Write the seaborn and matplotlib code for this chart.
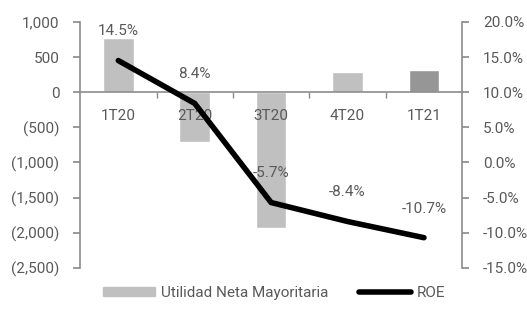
import numpy as np
import pandas as pd
import matplotlib
matplotlib.use("Agg")
import matplotlib.pyplot as plt
import seaborn as sns
from matplotlib.lines import Line2D
from matplotlib.patches import Patch
from matplotlib.ticker import FuncFormatter

# data
quarters = ["1T20", "2T20", "3T20", "4T20", "1T21"]
utilidad = [770, -710, -1935, 285, 313]
roe = [14.5, 8.4, -5.7, -8.4, -10.7]
bar_colors = ["#c0c0c0", "#c0c0c0", "#c0c0c0", "#c0c0c0", "#969696"]

sns.set_theme(style="white")
plt.rcParams["font.family"] = ["Roboto", "DejaVu Sans"]
TXT = "#595959"
AX = "#8c8c8c"
FS = 11

df = pd.DataFrame({"q": quarters, "u": utilidad, "roe": roe})

fig = plt.figure(figsize=(5.27, 3.22), dpi=100)
ax = fig.add_axes([0.152, 0.168, 0.725, 0.764])

sns.barplot(data=df, x="q", y="u", hue="q", palette=bar_colors, width=0.4,
            legend=False, ax=ax, saturation=1)
ax.set_axisbelow(False)
ax.set_ylim(-2500, 1000)
ax.set_xlim(-0.5, 4.5)
ax.set_yticks(np.arange(-2500, 1001, 500))
ax.yaxis.set_major_formatter(FuncFormatter(
    lambda v, p: f"({abs(v):,.0f})" if v < 0 else f"{v:,.0f}"))
ax.set_xlabel("")
ax.set_ylabel("")

for s in ["top", "right"]:
    ax.spines[s].set_visible(False)
ax.spines["left"].set_color(AX)
ax.spines["left"].set_linewidth(1.2)
ax.spines["bottom"].set_position(("data", 0))
ax.spines["bottom"].set_color(AX)
ax.spines["bottom"].set_linewidth(1.2)

ax.tick_params(axis="y", left=True, length=5, color=AX, labelsize=FS,
               labelcolor=TXT, pad=10)
ax.tick_params(axis="x", which="major", bottom=False, labelsize=FS,
               labelcolor=TXT, pad=6)
ax.set_xticks([0.5, 1.5, 2.5, 3.5], minor=True)
ax.tick_params(axis="x", which="minor", bottom=True, length=4, color=AX,
               direction="out")

ax2 = ax.twinx()
sns.lineplot(data=df, x="q", y="roe", color="black", linewidth=4,
             sort=False, ax=ax2, legend=False)
ax2.set_ylim(-15, 20)
ax2.set_yticks(np.arange(-15, 20.1, 5))
ax2.yaxis.set_major_formatter(FuncFormatter(lambda v, p: f"{v:.1f}%"))
ax2.set_ylabel("")
for s in ["top", "left", "bottom"]:
    ax2.spines[s].set_visible(False)
ax2.spines["right"].set_color(AX)
ax2.spines["right"].set_linewidth(1.2)
ax2.tick_params(axis="y", right=True, length=5, color=AX, labelsize=FS,
                labelcolor=TXT, pad=10)

for i, v in enumerate(roe):
    ax2.annotate(f"{v:.1f}%", (i, v), xytext=(0, 21), textcoords="offset points",
                 ha="center", va="center", fontsize=FS, color=TXT)

handles = [Patch(color="#c0c0c0"), Line2D([], [], color="black", lw=4)]
fig.legend(handles, ["Utilidad Neta Mayoritaria", "ROE"], loc="center",
           bbox_to_anchor=(0.52, 0.09), ncol=2, frameon=False, fontsize=FS,
           labelcolor=TXT, handlelength=3.4, handleheight=0.5,
           columnspacing=2.0, handletextpad=0.4)

fig.savefig("out.png", dpi=100)
